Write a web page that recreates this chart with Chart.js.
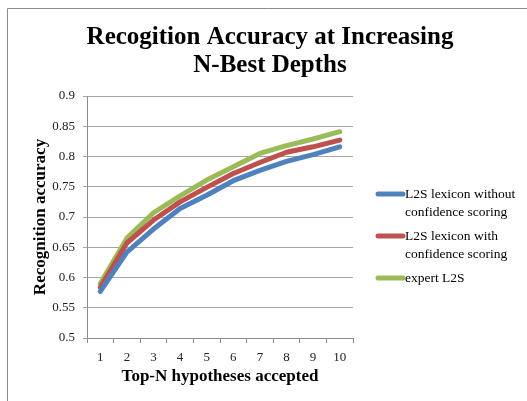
<!DOCTYPE html>
<html>
<head>
<meta charset="utf-8">
<script src="https://cdn.jsdelivr.net/npm/chart.js@4.4.1/dist/chart.umd.min.js"></script>
<style>
  html, body { margin: 0; padding: 0; background: #fff; }
  #wrap { width: 527px; height: 401px; }
</style>
</head>
<body>
<div id="wrap"><canvas id="accuracy-chart" width="527" height="401"></canvas></div>
<script>
(function () {
    var depths = ["1", "2", "3", "4", "5", "6", "7", "8", "9", "10"];
    var noConfidence = [0.577, 0.642, 0.680, 0.714, 0.736, 0.760, 0.777, 0.792, 0.803, 0.816];
    var withConfidence = [0.584, 0.657, 0.695, 0.725, 0.749, 0.772, 0.790, 0.807, 0.816, 0.827];
    var expert = [0.590, 0.665, 0.707, 0.735, 0.761, 0.783, 0.805, 0.818, 0.829, 0.841];
    var seriesNames = [
        ["L2S lexicon without", "confidence scoring"],
        ["L2S lexicon with", "confidence scoring"],
        ["expert L2S"]
    ];
    var seriesColors = ["#4f81bd", "#c0504d", "#9bbb59"];
    var titleLines = ["Recogition Accuracy at Increasing", "N-Best Depths"];

    var serif = "'Liberation Serif', 'DejaVu Serif', serif";

    // outer frame, title and the two-line legend
    var decorations = {
        id: 'decorations',
        beforeDraw: function (chart) {
            var ctx = chart.ctx;
            ctx.save();
            ctx.strokeStyle = "#8c8c8c";
            ctx.lineWidth = 1;
            ctx.beginPath();
            ctx.moveTo(7.5, 401);
            ctx.lineTo(7.5, 8.5);
            ctx.lineTo(527, 8.5);
            ctx.stroke();
            ctx.restore();
        },
        afterDraw: function (chart) {
            var ctx = chart.ctx;
            ctx.save();
            ctx.fillStyle = "#000";
            ctx.textAlign = "center";
            ctx.textBaseline = "middle";
            ctx.font = "bold 25px " + serif;
            titleLines.forEach(function (t, i) {
                ctx.fillText(t, 270, 38 + i * 28);
            });

            ctx.textAlign = "left";
            ctx.font = "13.5px " + serif;
            var y = 194;
            chart.data.datasets.forEach(function (ds, i) {
                ctx.strokeStyle = ds.borderColor;
                ctx.lineWidth = 5;
                ctx.lineCap = "round";
                ctx.beginPath();
                ctx.moveTo(378, y);
                ctx.lineTo(403, y);
                ctx.stroke();
                seriesNames[i].forEach(function (line, j) {
                    ctx.fillText(line, 405, y + j * 18);
                });
                y += seriesNames[i].length * 18 + 6;
            });
            ctx.restore();
        }
    };

    var datasets = [noConfidence, withConfidence, expert].map(function (vals, i) {
        return {
            label: seriesNames[i].join(" "),
            data: vals,
            borderColor: seriesColors[i],
            backgroundColor: seriesColors[i],
            borderWidth: 5,
            borderCapStyle: "round",
            borderJoinStyle: "round",
            pointRadius: 0,
            tension: 0,
            fill: false
        };
    });

    var ctx = document.getElementById('accuracy-chart').getContext('2d');
    new Chart(ctx, {
        type: 'line',
        data: { labels: depths, datasets: datasets },
        plugins: [decorations],
        options: {
            responsive: false,
            animation: false,
            layout: { padding: { left: 28, right: 174, top: 96, bottom: 13 } },
            plugins: {
                legend: { display: false },
                title: { display: false },
                tooltip: { enabled: false }
            },
            scales: {
                x: {
                    offset: true,
                    afterFit: function (s) { s.height = 50; },
                    grid: {
                        offset: true,
                        drawOnChartArea: false,
                        drawTicks: true,
                        tickLength: 5,
                        color: "#8c8c8c"
                    },
                    border: { color: "#8c8c8c" },
                    ticks: {
                        color: "#222",
                        padding: 7,
                        maxRotation: 0,
                        font: { family: serif, size: 13 }
                    },
                    title: {
                        display: true,
                        text: "Top-N hypotheses accepted",
                        color: "#000",
                        padding: { top: 0, bottom: 1 },
                        font: { family: serif, size: 17, weight: 'bold' }
                    }
                },
                y: {
                    min: 0.5,
                    max: 0.9,
                    afterFit: function (s) { s.width = 59; },
                    grid: {
                        color: "#a6a6a6",
                        tickLength: 4
                    },
                    border: { color: "#8c8c8c" },
                    ticks: {
                        stepSize: 0.05,
                        color: "#222",
                        padding: 8,
                        font: { family: serif, size: 13 },
                        callback: function (v) {
                            return parseFloat(v.toFixed(2)).toString();
                        }
                    },
                    title: {
                        display: true,
                        text: "Recognition accuracy",
                        color: "#000",
                        padding: { top: 2, bottom: 0 },
                        font: { family: serif, size: 17, weight: 'bold' }
                    }
                }
            }
        }
    });
})();
</script>
</body>
</html>
